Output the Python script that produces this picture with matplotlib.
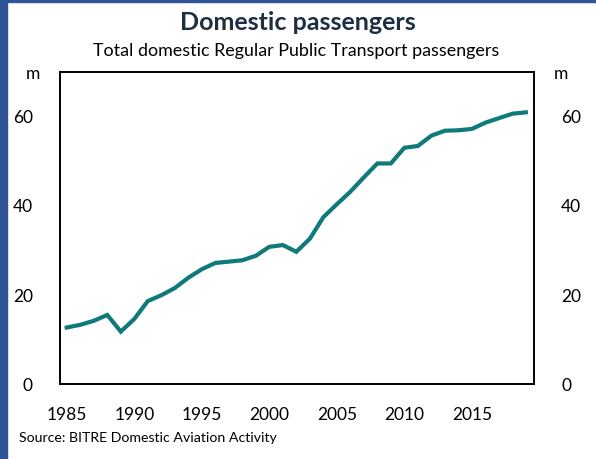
import numpy as np
import matplotlib.pyplot as plt
from matplotlib.patches import Rectangle

# Domestic RPT passengers, millions
years = np.arange(1985, 2020)
passengers = [12.6, 13.2, 14.1, 15.4, 11.7, 14.5, 18.5, 19.8, 21.4, 23.7,
              25.6, 27.0, 27.3, 27.6, 28.6, 30.6, 31.0, 29.5, 32.4, 37.2,
              40.1, 42.9, 46.1, 49.2, 49.2, 52.7, 53.1, 55.4, 56.5, 56.6,
              56.9, 58.3, 59.3, 60.3, 60.6]
y_ticks = [0, 20, 40, 60]
x_ticks = [1985, 1990, 1995, 2000, 2005, 2010, 2015]

plt.rcParams['font.family'] = ['Lato', 'DejaVu Sans']

fig = plt.figure(figsize=(5.96, 4.60), dpi=100)
W, H = 596, 460

# blue frame on the left and top edges
fig.patches.append(Rectangle((0, 0), 7 / W, 1, transform=fig.transFigure,
                             color='#2f5597', zorder=0))
fig.patches.append(Rectangle((0, 1 - 3 / H), 1, 3 / H, transform=fig.transFigure,
                             color='#2f5597', zorder=0))

ax = fig.add_axes([60 / W, 75 / H, (534 - 60) / W, (385 - 73) / H])
ax.plot(years, passengers, color='#10797a', lw=3, solid_joinstyle='miter')

ax.set_xlim(1984.5, 2019.6)
ax.set_ylim(0, 69.6)
ax.set_xticks(x_ticks)
ax.set_yticks(y_ticks)
ax.tick_params(left=False, right=False, bottom=False,
               labelleft=True, labelright=True, labelsize=12.5, colors='black')
ax.tick_params(axis='y', pad=16)
ax.tick_params(axis='x', pad=12)
for s in ax.spines.values():
    s.set_linewidth(1.4)

fig.text(298 / W, 1 - 22 / H, 'Domestic passengers', ha='center', va='center',
         fontsize=18, fontweight='bold', color='#1e2f44')
fig.text(296 / W, 1 - 51 / H, 'Total domestic Regular Public Transport passengers',
         ha='center', va='center', fontsize=12.9)
fig.text(33 / W, 1 - 74 / H, 'm', ha='center', va='center', fontsize=12.5)
fig.text(561 / W, 1 - 74 / H, 'm', ha='center', va='center', fontsize=12.5)
fig.text(19 / W, 1 - 438 / H, 'Source: BITRE Domestic Aviation Activity',
         ha='left', va='center', fontsize=10.2)

fig.savefig('out.png', dpi=100)
